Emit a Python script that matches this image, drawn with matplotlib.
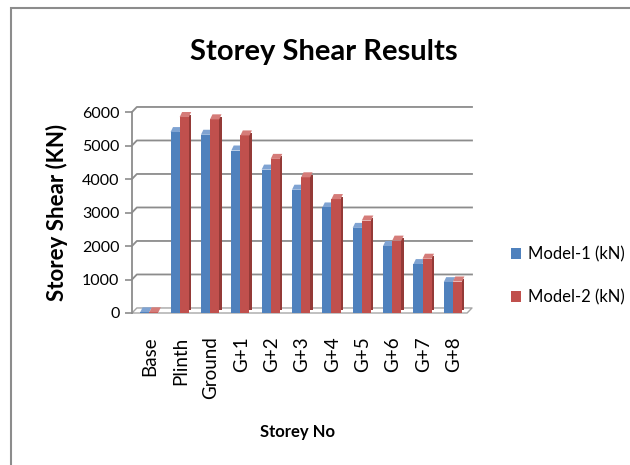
import matplotlib
matplotlib.use("Agg")
import matplotlib.pyplot as plt
from matplotlib.patches import Rectangle
import numpy as np

plt.rcParams['font.family'] = ['Lato', 'DejaVu Sans']

storeys = ["Base", "Plinth", "Ground", "G+1", "G+2", "G+3", "G+4", "G+5", "G+6", "G+7", "G+8"]
model1 = [20, 5400, 5320, 4850, 4280, 3680, 3150, 2540, 2000, 1460, 920]
model2 = [20, 5850, 5780, 5300, 4600, 4050, 3400, 2760, 2160, 1620, 940]
yticks = [0, 1000, 2000, 3000, 4000, 5000, 6000]

blue = "#4F81BD"
red = "#C0504D"
blue_top = "#7FA3D2"
red_top = "#D57C79"
red_side = "#943A37"

fig = plt.figure(figsize=(6.3, 4.65), dpi=100)
ax = fig.add_axes([132/630, 1 - 313/465, (472 - 132)/630, (313 - 112)/465])

x = np.arange(len(storeys))
w = 0.30
dx = 0.08    # depth of bars, in x units
dy = 150     # depth of bars, in y units

# back wall gridlines (slanted at the left like the 3d chart)
for t in yticks[1:]:
    ax.plot([-0.6, -0.6 + dx * 2, 10.6], [t, t + dy, t + dy], color="#8C8C8C", lw=1.3, zorder=1, clip_on=False)
# floor
ax.plot([-0.6, -0.6 + dx * 2, 10.6, 10.6 - dx * 2, -0.6], [0, dy, dy, 0, 0],
        color="#A6A6A6", lw=1.0, zorder=1, clip_on=False)

# side face of red bars
ax.bar(x + w - 0.03 + dx / 2, model2, width=dx, bottom=dy / 2, color=red_side, zorder=2)
# top faces
for xi, v1, v2 in zip(x, model1, model2):
    l1 = xi - 0.03 - w
    ax.fill([l1, l1 + w, l1 + w + dx, l1 + dx], [v1, v1, v1 + dy, v1 + dy], color=blue_top, zorder=2, lw=0)
    l2 = xi - 0.03
    ax.fill([l2, l2 + w, l2 + w + dx, l2 + dx], [v2, v2, v2 + dy, v2 + dy], color=red_top, zorder=4, lw=0)
b1 = ax.bar(x - 0.03 - w / 2, model1, width=w, color=blue, zorder=3, label="Model-1 (kN)")
b2 = ax.bar(x - 0.03 + w / 2, model2, width=w, color=red, zorder=3, label="Model-2 (kN)")

ax.set_xlim(-0.6, 10.6)
ax.set_ylim(0, 6000)
ax.set_yticks(yticks)
ax.set_yticklabels([str(t) for t in yticks], fontsize=11.5)
ax.set_xticks(x)
ax.set_xticklabels(storeys, rotation=90, fontsize=13.5)
ax.tick_params(axis="x", length=0, pad=17)
ax.tick_params(axis="y", length=5, color="#8C8C8C", width=1.2, pad=4)
for s in ["top", "right", "bottom"]:
    ax.spines[s].set_visible(False)
ax.spines["left"].set_color("#8C8C8C")
ax.spines["left"].set_linewidth(1.3)

fig.text(57/630, 1 - 212/465, "Storey Shear (KN)", rotation=90, ha="center", va="center",
         fontsize=16, fontweight="bold")
fig.text(298/630, 1 - 432/465, "Storey No", ha="center", va="center", fontsize=12, fontweight="bold")
fig.text(324/630, 1 - 52/465, "Storey Shear Results", ha="center", va="center", fontsize=21, fontweight="bold")

fig.legend(handles=[b1, b2], loc="center left", bbox_to_anchor=(496/630, 1 - 276/465), frameon=False,
           fontsize=12, handlelength=0.6, handleheight=0.6, handletextpad=0.4, labelspacing=1.6)

# chart border (only top and left edges are in the crop)
fig.add_artist(Rectangle((11/630, -0.1), 1.2, 1 - 8/465 + 0.1, transform=fig.transFigure,
                         fill=False, edgecolor="#8C8C8C", lw=1.5))

fig.savefig("out.png", dpi=100)
